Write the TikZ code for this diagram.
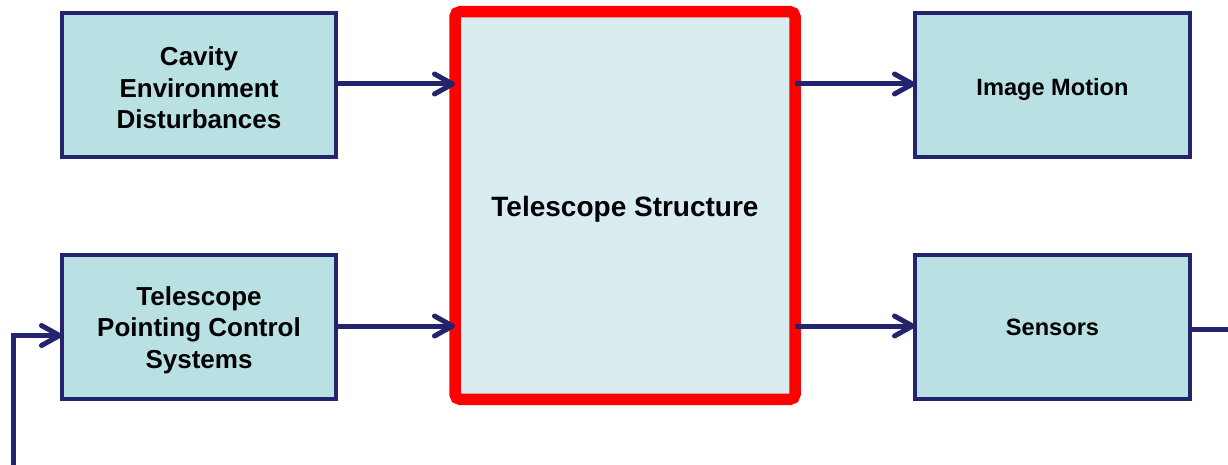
\documentclass[tikz,border=0pt]{standalone}
\usepackage{fontspec}
\setmainfont{Liberation Sans}
\usetikzlibrary{arrows.meta}
\definecolor{navy}{RGB}{36,36,110}
\definecolor{boxfill}{RGB}{185,224,227}
\definecolor{corefill}{RGB}{217,236,239}
\definecolor{corered}{RGB}{255,0,0}
\tikzset{
  block/.style={draw=navy, fill=boxfill, line width=4.6pt, outer sep=0pt,
    inner sep=0pt, align=center, font=\bfseries},
  sideblock/.style={block, minimum width=274pt, minimum height=144pt},
  core/.style={draw=corered, fill=corefill, line width=11.5pt, rounded corners=5pt,
    outer sep=0pt, inner sep=0pt, minimum width=340pt, minimum height=387.5pt,
    font=\fontsize{28}{32}\selectfont\bfseries, text height=27pt, text depth=6pt},
  flow/.style={draw=navy, line width=5pt,
    -{Straight Barb[length=18pt,width=20pt,line cap=round,line join=round]}},
  wire/.style={draw=navy, line width=5pt},
  big/.style={font=\fontsize{26}{31.5}\selectfont\bfseries, text height=88pt},
  small/.style={font=\fontsize{23.6}{28}\selectfont\bfseries}
}
\begin{document}
\begin{tikzpicture}[x=1pt,y=-1pt]
\useasboundingbox (0,0) rectangle (1228,465);
\clip (0,0) rectangle (1228,465);
\fill[white] (0,0) rectangle (1228,465);

% input blocks
\node[sideblock, big] (cav) at (199,85) {Cavity\\Environment\\Disturbances};
\node[sideblock, big] (pcs) at (199,327) {Telescope\\Pointing Control\\Systems};

% central structure
\node[core] (ts) at (625,205.5) {Telescope Structure};

% output blocks
\node[sideblock, minimum width=275pt, small, text height=27pt, text depth=5pt]
  (img) at (1052.5,85) {Image Motion};
\node[sideblock, minimum width=275pt, small, text height=21.5pt, text depth=5pt]
  (sen) at (1052.5,327) {Sensors};

% signal flow into and out of the structure
\draw[flow] ([yshift=1pt]cav.east) -- ([yshift=1pt]cav.east -| ts.west);
\draw[flow] ([yshift=1pt]pcs.east) -- ([yshift=1pt]pcs.east -| ts.west);
\draw[flow] ([yshift=1pt]ts.east |- img.west) -- ([yshift=1pt]img.west);
\draw[flow] ([yshift=1pt]ts.east |- sen.west) -- ([yshift=1pt]sen.west);

% feedback loop from the sensors back to pointing control
\coordinate (fbA) at (1245,329.5);
\coordinate (fbB) at (1245,467.5);
\coordinate (fbC) at (13.5,467.5);
\coordinate (fbD) at (13.5,335.5);
\draw[wire] ([yshift=-2.5pt]sen.east) -- (fbA) -- (fbB) -- (fbC) -- (fbD);
\draw[flow] ([xshift=-2.5pt]fbD) -- (fbD -| pcs.west);
\end{tikzpicture}
\end{document}
